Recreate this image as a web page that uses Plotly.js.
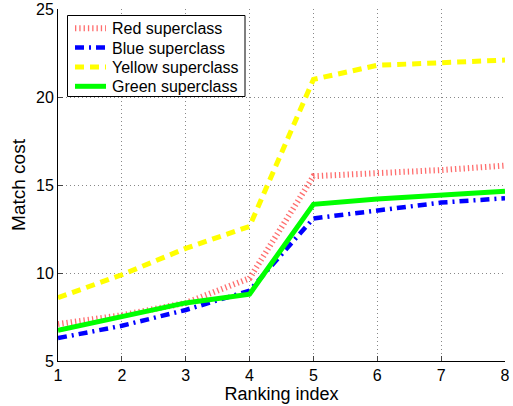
<!DOCTYPE html>
<html><head><meta charset="utf-8">
<script src="https://cdn.plot.ly/plotly-3.0.1.min.js"></script>
<style>body{margin:0;background:#fff}#c{width:513px;height:406px}</style>
</head><body><div id="c"></div>
<script>
const rankIndex = [1, 2, 3, 4, 5, 6, 7, 8];
const redValues = [7.1, 7.6, 8.3, 9.7, 15.5, 15.65, 15.85, 16.1];
const blueValues = [6.3, 7.0, 7.9, 9.0, 13.1, 13.55, 14.0, 14.25];
const yellowValues = [8.6, 9.9, 11.4, 12.65, 21.0, 21.8, 21.95, 22.1];
const greenValues = [6.75, 7.55, 8.3, 8.8, 13.9, 14.2, 14.4, 14.65];
const seriesNames = ['Red superclass', 'Blue superclass', 'Yellow superclass', 'Green superclass'];
const yTicks = [5, 10, 15, 20, 25];

const lineStyles = [
  {color: 'rgba(255,60,60,0.75)', width: 6, dash: '1.3px,3px'},
  {color: '#0000ff', width: 4.5, dash: '9px,5px,2px,5px'},
  {color: '#ffff00', width: 5, dash: '9px,6px'},
  {color: '#00ff00', width: 5, dash: 'solid'}
];
const seriesValues = [redValues, blueValues, yellowValues, greenValues];

const traces = seriesValues.map((vals, i) => ({
  x: rankIndex, y: vals, name: seriesNames[i], mode: 'lines', line: lineStyles[i]
}));

// plot area geometry (pixels)
const W = 513, H = 406, L = 58, R = 8, T = 9, B = 45;
const pw = W - L - R, ph = H - T - B;
const px = x => (x - L) / pw;
const py = y => (H - B - y) / ph;

// manual legend (box, samples, labels)
const shapes = [{type: 'rect', xref: 'paper', yref: 'paper',
  x0: px(67.5), x1: px(245), y0: py(96.5), y1: py(15.5),
  line: {color: '#000', width: 1}, fillcolor: '#fff', layer: 'above'}];
const annotations = [];
const rowY = [28.3, 47.6, 67, 86.3];
seriesNames.forEach((n, i) => {
  shapes.push({type: 'line', xref: 'paper', yref: 'paper',
    x0: px(75), x1: px(106), y0: py(rowY[i]), y1: py(rowY[i]),
    line: lineStyles[i], layer: 'above'});
  annotations.push({xref: 'paper', yref: 'paper', x: px(109.5), y: py(rowY[i] + 0.5),
    xanchor: 'left', yanchor: 'middle', text: n, showarrow: false,
    font: {size: 16, color: '#000'}});
});

const gridStyle = {showgrid: true, gridcolor: '#888', griddash: '1px,3px', gridwidth: 1};
const layout = {
  width: W, height: H,
  margin: {l: L, r: R, t: T, b: B},
  paper_bgcolor: '#fff', plot_bgcolor: '#fff',
  font: {family: 'Liberation Sans, Arial, sans-serif', size: 14, color: '#000'},
  showlegend: false,
  shapes: shapes, annotations: annotations,
  xaxis: Object.assign({range: [1, 8], tickvals: rankIndex, ticks: 'inside', ticklen: 5,
    showline: true, linecolor: '#000', linewidth: 1, zeroline: false,
    title: {text: 'Ranking index', font: {size: 18}, standoff: 1},
    tickfont: {size: 16}}, gridStyle),
  yaxis: Object.assign({range: [5, 25], tickvals: yTicks, ticks: 'inside', ticklen: 5,
    showline: true, linecolor: '#000', linewidth: 1, zeroline: false,
    title: {text: 'Match cost', font: {size: 19}, standoff: 5},
    tickfont: {size: 16}}, gridStyle)
};
Plotly.newPlot('c', traces, layout, {displayModeBar: false, staticPlot: true});
</script></body></html>
